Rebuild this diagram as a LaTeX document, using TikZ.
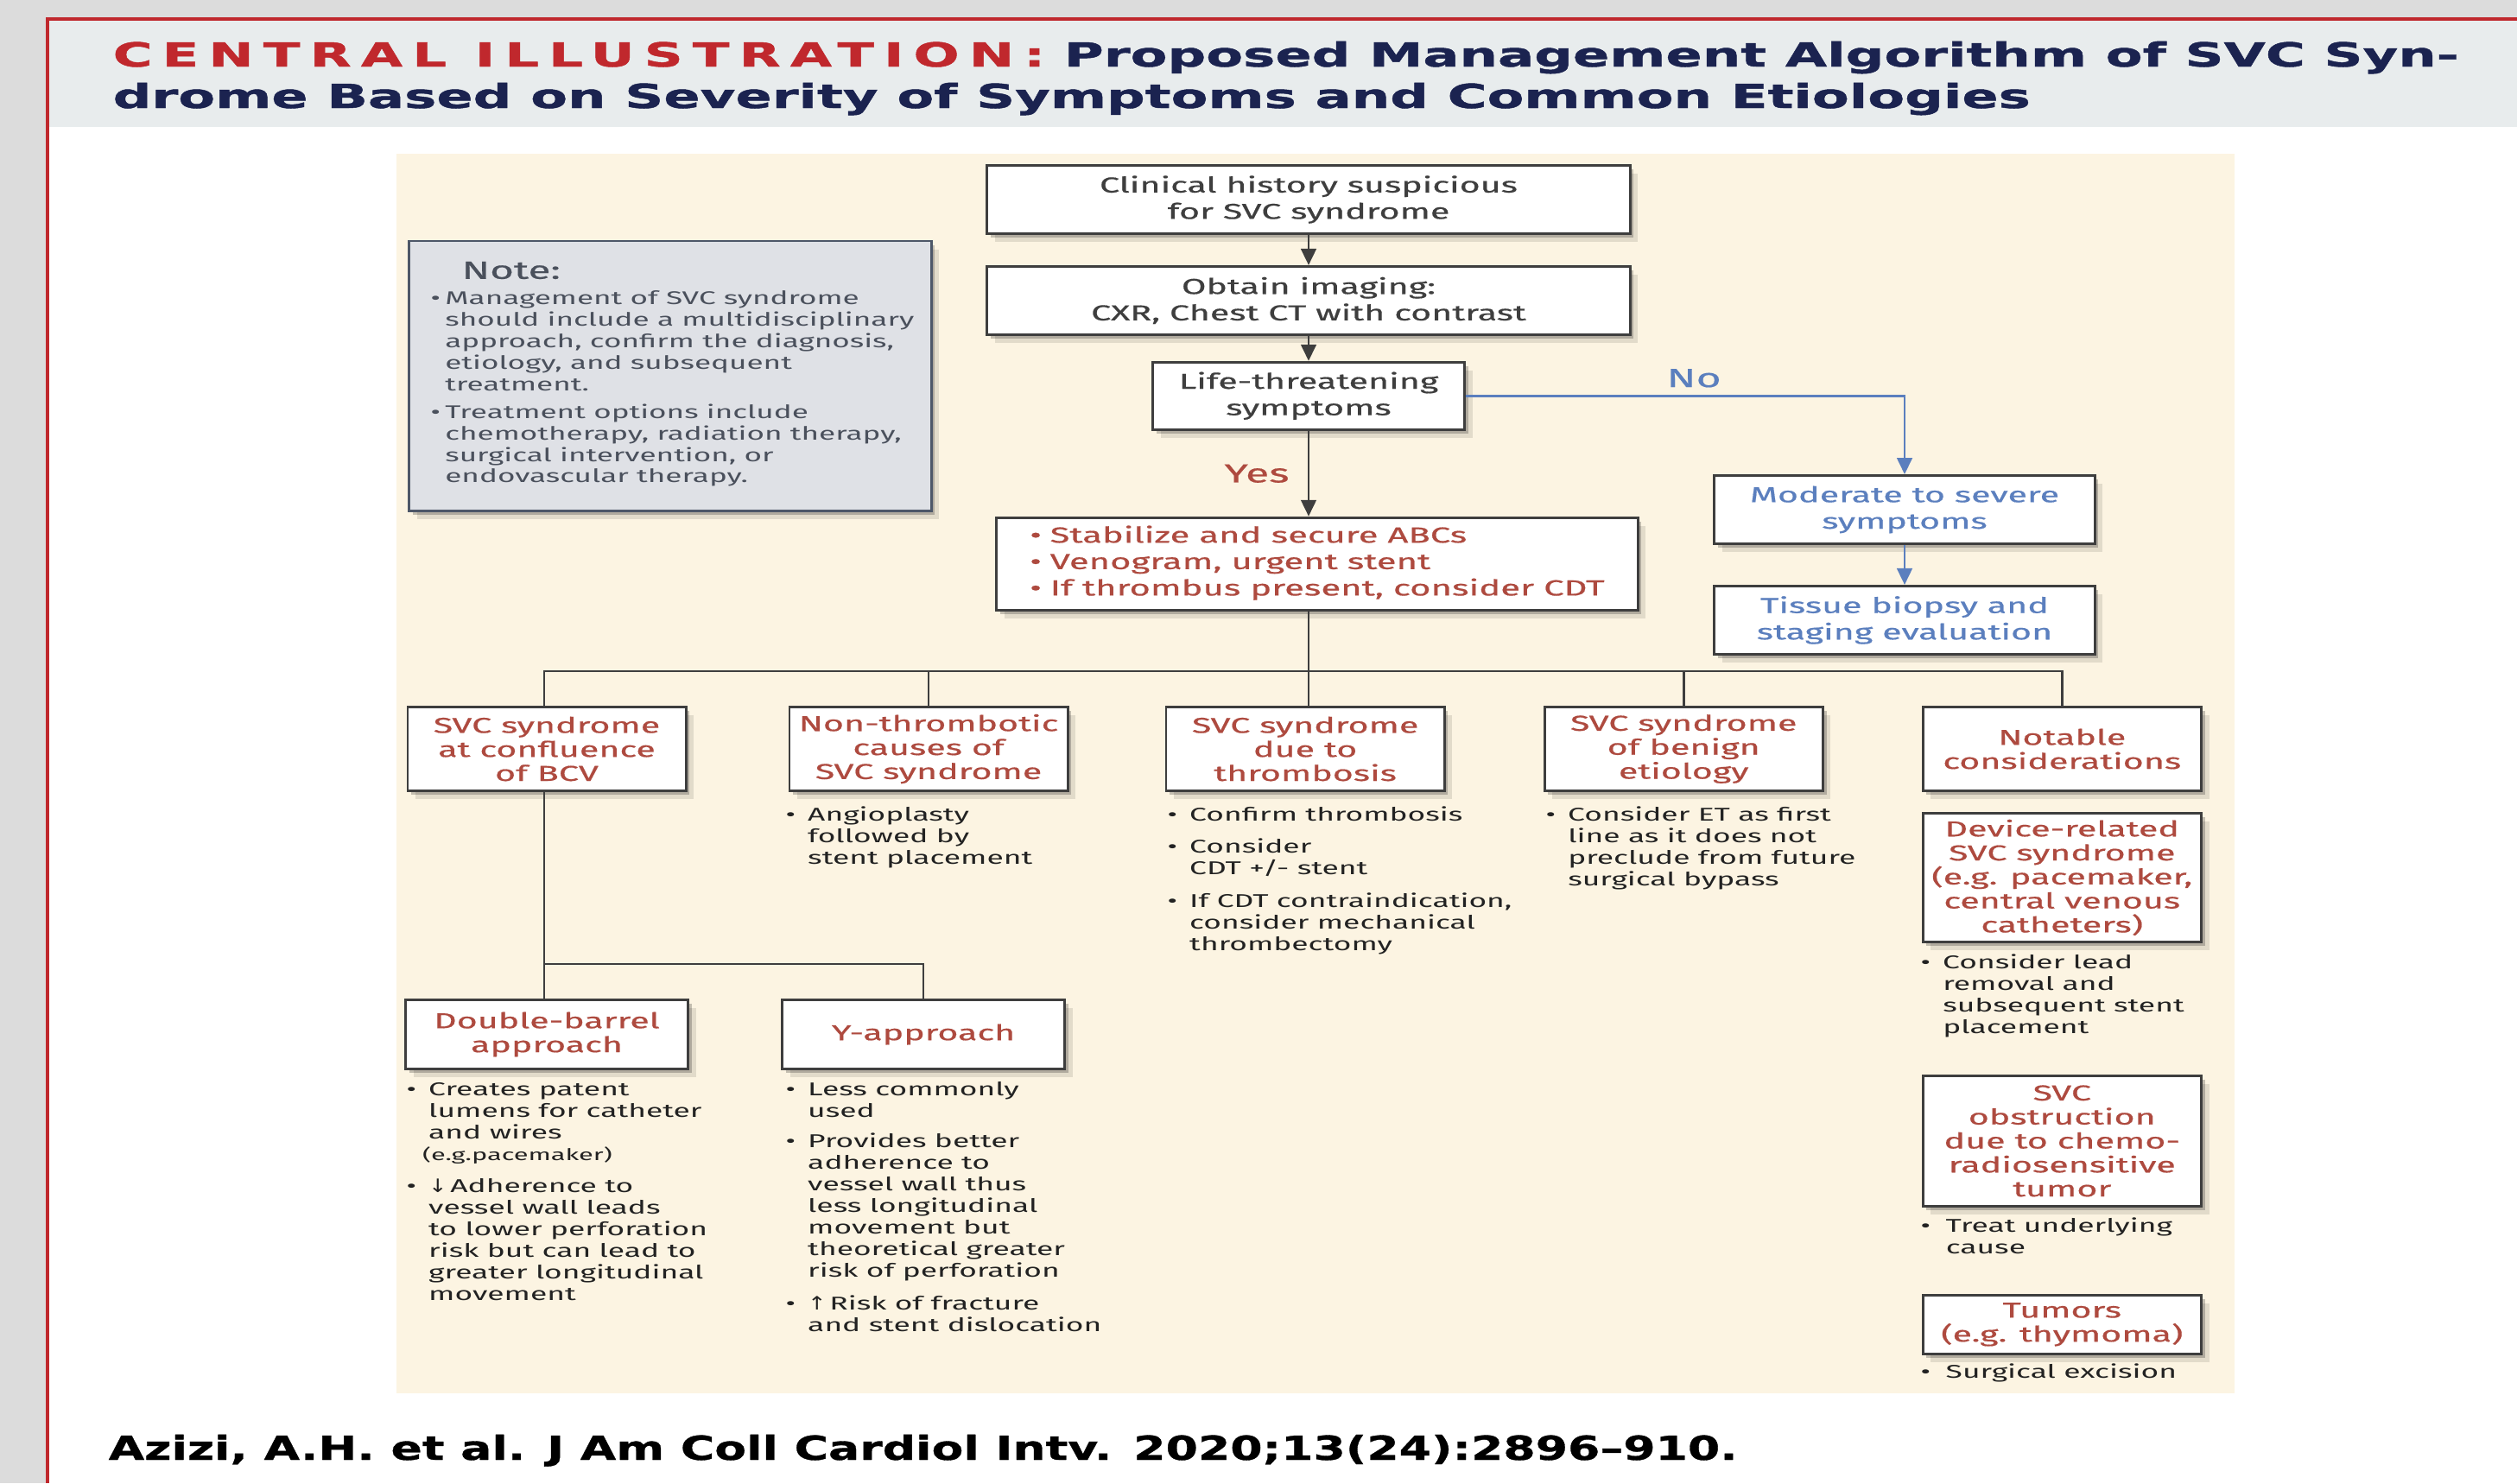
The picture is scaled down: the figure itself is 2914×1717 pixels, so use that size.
\documentclass[tikz,border=0pt]{standalone}
\usepackage{fontspec}
\setmainfont{Fira Sans}[FakeStretch=1.65]
\newfontfamily\boldbox{Fira Sans}[FakeStretch=1.65, FakeBold=0.6]
\newfontfamily\headfont{DejaVu Sans}[FakeStretch=1.63, FakeBold=1.2]
\newfontfamily\citefont{DejaVu Sans}[FakeStretch=1.4, FakeBold=0.8]
\newfontfamily\arrowfont{DejaVu Sans}[FakeStretch=1.2]
\usetikzlibrary{positioning, arrows.meta, shadows}

\definecolor{jaccred}{HTML}{C0282D}
\definecolor{navy}{HTML}{1B2350}
\definecolor{boxred}{HTML}{AE4A3F}
\definecolor{boxblue}{HTML}{5B7FBE}
\definecolor{boxgray}{HTML}{3E3E3E}
\definecolor{listc}{HTML}{222222}
\definecolor{panel}{HTML}{FCF4E2}
\definecolor{titleband}{HTML}{E8ECED}
\definecolor{outergray}{HTML}{DCDCDC}
\definecolor{notefill}{HTML}{DFE1E6}
\definecolor{notedraw}{HTML}{4D5768}
\definecolor{notetext}{HTML}{4A505C}

\newcommand{\boxfont}{\boldbox\fontsize{7.1}{8.7}\selectfont}
\newcommand{\catfont}{\boldbox\fontsize{7.1}{7.9}\selectfont}
\newcommand{\listfont}{\fontsize{6.1}{7.1}\selectfont}
\newcommand{\notefont}{\fontsize{6.05}{7.1}\selectfont}
\newcommand{\headsize}{\fontsize{10.9}{13}\selectfont}
\newcommand{\bl}{\textbullet}
\newcommand{\blist}[2][4pt]{\begin{tabular}{@{}l@{\hspace{#1}}l@{}}#2\end{tabular}}

\begin{document}
\begin{tikzpicture}[
    x=0.01cm, y=-0.01cm,
    >={Triangle[length=5.4pt, width=5pt]},
    shd/.style={drop shadow={shadow xshift=1.2pt, shadow yshift=-1.4pt, fill=black, opacity=0.22},
                drop shadow={shadow xshift=2.6pt, shadow yshift=-2.8pt, fill=black, opacity=0.10}},
    box/.style={draw=boxgray, line width=0.8pt, fill=white, shd, align=center,
                inner sep=0pt, text=boxgray, font=\boxfont},
    flow/.style={box, minimum width=7.44cm, minimum height=0.79cm},
    side/.style={box, text=boxblue, minimum width=4.40cm, minimum height=0.79cm},
    cat/.style={box, text=boxred, font=\catfont, minimum width=3.22cm, minimum height=0.97cm},
    sub/.style={box, text=boxred, font=\catfont, minimum width=3.27cm, minimum height=0.80cm},
    lst/.style={anchor=north west, inner sep=0pt, font=\listfont, text=listc},
    conn/.style={draw=boxgray, line width=0.8pt},
    arr/.style={conn, ->},
    noarr/.style={draw=boxblue, line width=0.8pt, ->},
    lbl/.style={inner sep=0pt, font=\boldbox\fontsize{8.6}{10}\selectfont},
]
\useasboundingbox (0,0) rectangle (2914,1717);

% --- Frame and panels ---
\fill[outergray] (0,0) rectangle (2914,1717);
\fill[white] (55,22) rectangle (2914,1717);
\fill[titleband] (55,24) rectangle (2914,147);
\draw[jaccred, line width=1.4pt] (55,1717) -- (55,22) -- (2914,22);
\fill[panel] (459,178) rectangle (2587,1613);

% --- Title ---
\node[anchor=base west, inner sep=0pt, font=\headfont\bfseries\headsize] (title1) at (130,77)
  {{\color{jaccred}\addfontfeature{LetterSpace=29}CENTRAL ILLUSTRATION:} {\color{navy}Proposed Management Algorithm of SVC Syn-}};
\node[anchor=base west, inner sep=0pt, font=\headfont\bfseries\headsize, text=navy] (title2) at (130,125)
  {drome Based on Severity of Symptoms and Common Etiologies};

% --- Note ---
\node[draw=notedraw, line width=0.8pt, fill=notefill, shd, minimum width=6.04cm, minimum height=3.12cm,
      inner sep=0pt] (note) at (776,435) {};
\node[anchor=west, inner sep=0pt, font=\boldbox\fontsize{8.2}{9}\selectfont, text=notetext] (notehead) at (534,313) {Note:};
\node[lst, font=\notefont, text=notetext] (notelist) at (498,334) {\blist[1.5pt]{%
  \bl & Management of SVC syndrome\\ & should include a multidisciplinary\\
  & approach, confirm the diagnosis,\\ & etiology, and subsequent\\ & treatment.\\[2pt]
  \bl & Treatment options include\\ & chemotherapy, radiation therapy,\\
  & surgical intervention, or\\ & endovascular therapy.}};

% --- Main column ---
\node[flow] (clin) at (1515,231) {Clinical history suspicious\\for SVC syndrome};
\node[flow, below=0.35cm of clin] (img) {Obtain imaging:\\CXR, Chest CT with contrast};
\node[box, minimum width=3.61cm, minimum height=0.78cm, below=0.29cm of img] (life)
  {Life-threatening\\symptoms};
\node[box, text=boxred, font=\boldbox\fontsize{7.2}{8.7}\selectfont, minimum width=7.42cm,
      minimum height=1.07cm, below=0.99cm of life, xshift=0.1cm] (stab)
  {\blist[2.8pt]{\bl & Stabilize and secure ABCs\\ \bl & Venogram, urgent stent\\
   \bl & If thrombus present, consider CDT}};

% --- No branch ---
\node[side] (mod) at (2205,590) {Moderate to severe\\symptoms};
\node[side, below=0.46cm of mod] (tis) {Tissue biopsy and\\staging evaluation};

% --- Etiologies ---
\node[cat] (bcv) at (633,867) {SVC syndrome\\at confluence\\of BCV};
\node[cat, right=1.17cm of bcv] (nonth) {Non-thrombotic\\causes of\\SVC syndrome};
\node[cat, right=1.11cm of nonth] (thromb) {SVC syndrome\\due to\\thrombosis};
\node[cat, right=1.13cm of thromb] (benign) {SVC syndrome\\of benign\\etiology};
\node[cat, right=1.13cm of benign] (notable) {Notable\\considerations};

\node[sub, below=2.39cm of bcv] (db) {Double-barrel\\approach};
\node[sub, right=1.06cm of db] (yap) {Y-approach};

\node[cat, below=0.23cm of notable, minimum height=1.49cm] (dev)
  {Device-related\\SVC syndrome\\(e.g. pacemaker,\\central venous\\catheters)};
\node[cat, below=1.52cm of dev, minimum height=1.51cm] (obst)
  {SVC\\obstruction\\due to chemo-\\radiosensitive\\tumor};
\node[cat, below=1.00cm of obst, minimum height=0.68cm] (tum) {Tumors\\(e.g. thymoma)};

% --- Bullet texts ---
\node[lst] (nonthL) at (909,932) {\blist{\bl & Angioplasty\\ & followed by\\ & stent placement}};
\node[lst] (thrombL) at (1351,932) {\blist{\bl & Confirm thrombosis\\[3.6pt]
  \bl & Consider\\ & CDT +/- stent\\[3.6pt]
  \bl & If CDT contraindication,\\ & consider mechanical\\ & thrombectomy}};
\node[lst] (benignL) at (1789,932) {\blist{\bl & Consider ET as first\\ & line as it does not\\
  & preclude from future\\ & surgical bypass}};
\node[lst] (devL) at (2223,1103) {\blist{\bl & Consider lead\\ & removal and\\ & subsequent stent\\ & placement}};
\node[lst] (obstL) at (2223,1408) {\blist[5pt]{\bl & Treat underlying\\ & cause}};
\node[lst] (tumL) at (2223,1577) {\blist[5pt]{\bl & Surgical excision}};
\node[lst] (dbL) at (470,1250) {\blist{\bl & Creates patent\\ & lumens for catheter\\ & and wires\\
  & {\fontsize{5.3}{7.1}\selectfont\hspace{-2pt}(e.g.pacemaker)}\\[3.6pt]
  \bl & {\arrowfont ↓}\,Adherence to\\ & vessel wall leads\\ & to lower perforation\\
  & risk but can lead to\\ & greater longitudinal\\ & movement}};
\node[lst] (yapL) at (909,1250) {\blist{\bl & Less commonly\\ & used\\[3pt]
  \bl & Provides better\\ & adherence to\\ & vessel wall thus\\ & less longitudinal\\
  & movement but\\ & theoretical greater\\ & risk of perforation\\[3.6pt]
  \bl & {\arrowfont ↑}\,Risk of fracture\\ & and stent dislocation}};

% --- Yes / No labels ---
\draw[arr] (life) -- node[lbl, left=6pt, text=boxred] (yes) {Yes} (life |- stab.north);
\draw[noarr] (life.east) -| node[lbl, pos=0.26, above=2.4pt, text=boxblue] (no) {No} (mod.north);
\draw[noarr] (mod) -- (tis);

% --- Arrows ---
\draw[arr] (clin) -- (img);
\draw[arr] (img) -- (life);

% Bus to etiologies
\coordinate (busL) at (630,777);
\draw[conn] (life |- stab.south) -- (life |- thromb.north);
\draw[conn] (bcv.north -| busL) -- (busL) -- (busL -| notable.north) -- (notable.north);
\draw[conn] (nonth.north |- busL) -- (nonth.north);
\draw[conn] (benign.north |- busL) -- (benign.north);

% BCV split
\coordinate (split) at (630,1116);
\draw[conn] (bcv.south -| split) -- (db.north -| split);
\draw[conn] (split) -| (yap.north);

% --- Citation ---
\node[anchor=base west, inner sep=0pt, font=\citefont\bfseries\headsize] (cite) at (125,1690)
  {Azizi, A.H. et al. J Am Coll Cardiol Intv. 2020;13(24):2896–910.};
\end{tikzpicture}
\end{document}
